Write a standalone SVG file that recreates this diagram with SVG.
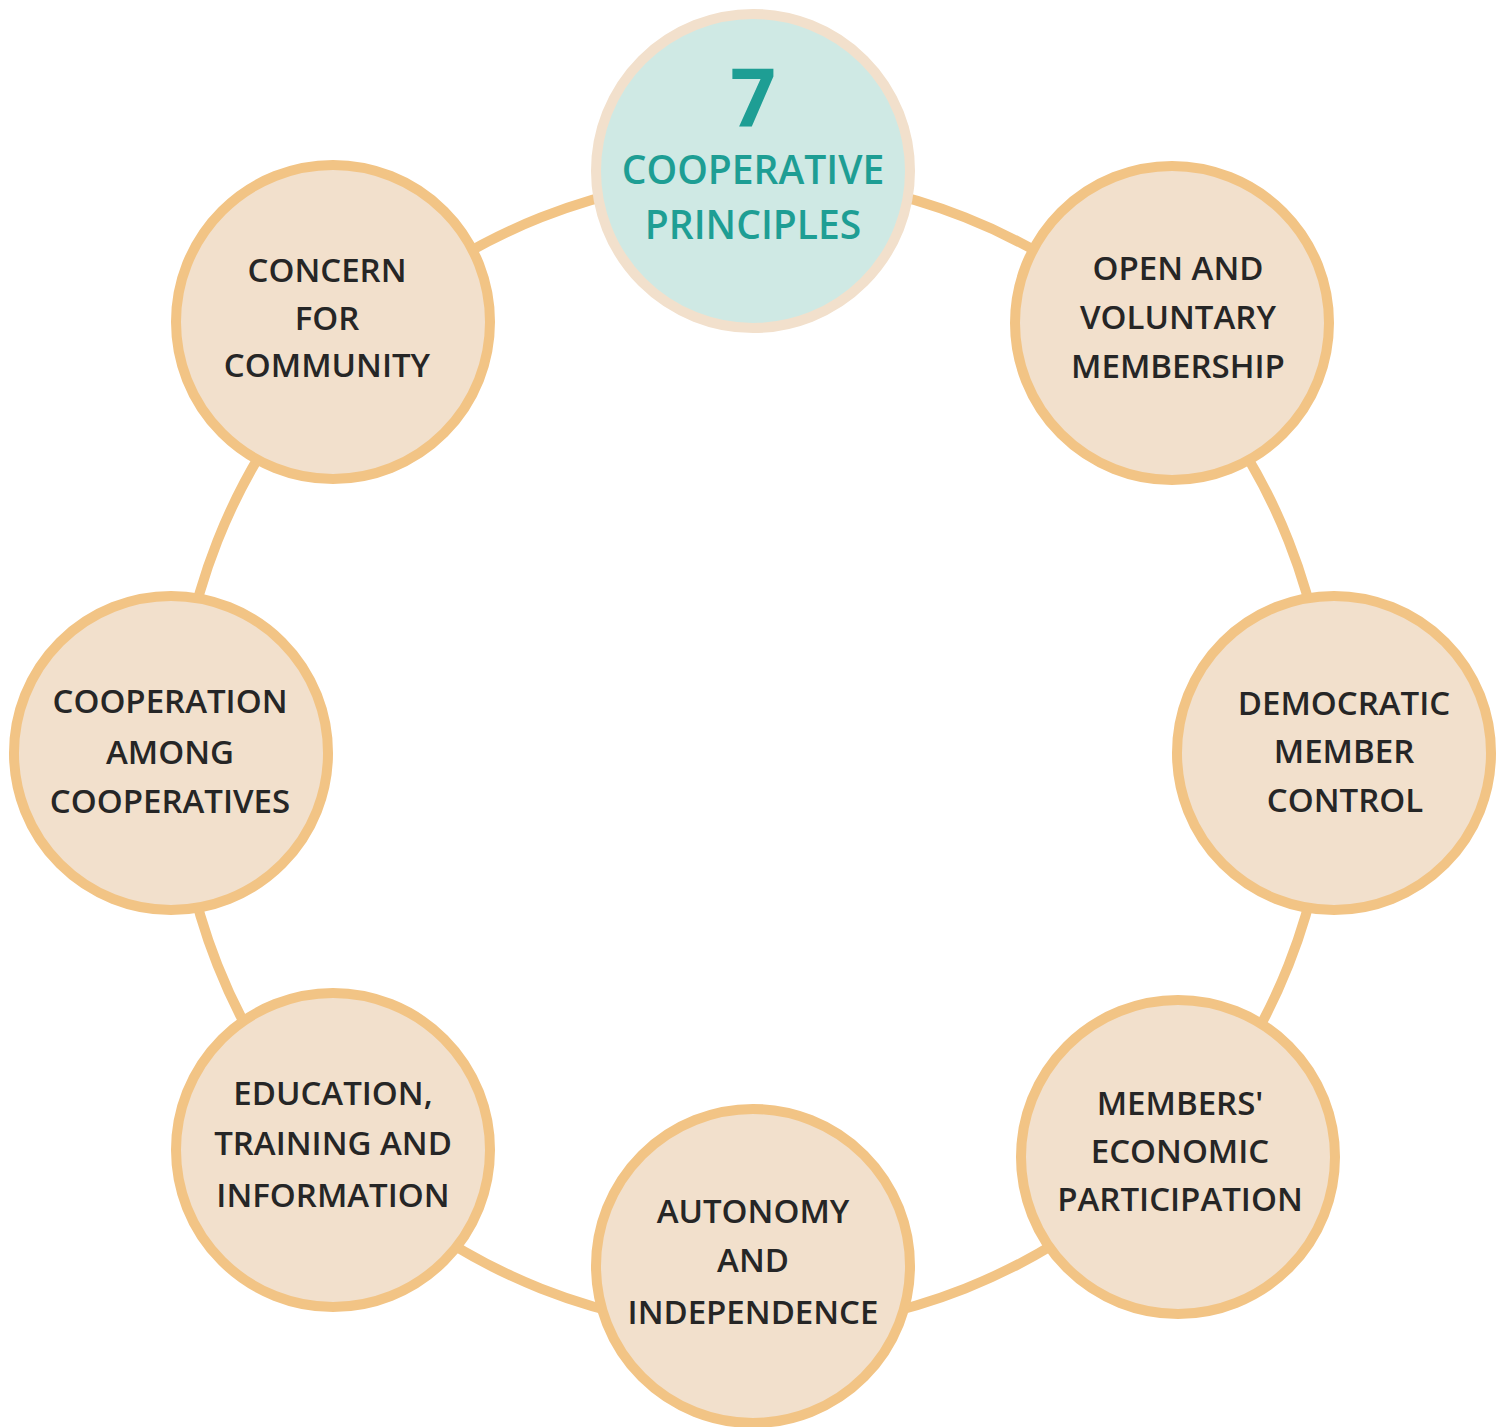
<svg xmlns="http://www.w3.org/2000/svg" width="1504" height="1427" viewBox="0 0 1504 1427">
<style>
.node{fill:#F2E0CC;stroke:#F2C485;stroke-width:10}
.hub{fill:#CFE9E4;stroke:#F2E0CC;stroke-width:10}
.lbl{font-family:"Open Sans","Liberation Sans",sans-serif;font-weight:600;font-size:33px;fill:#262626;text-anchor:middle}
.hubt{font-family:"Open Sans","Liberation Sans",sans-serif;fill:#1E9E94;text-anchor:middle}
.ring{fill:none;stroke:#F2C485;stroke-width:10}
</style>
<rect width="1504" height="1427" fill="#FFFFFF"/>
<g id="connectors">
<circle class="ring" cx="753" cy="753" r="576"/>
</g>
<g id="node-hub">
<circle class="hub" cx="753" cy="171" r="157"/>
<text class="hubt" x="753" y="126" font-size="80" font-weight="700">7</text>
<text class="hubt" x="753" y="184" font-size="39" font-weight="600">COOPERATIVE</text>
<text class="hubt" x="753" y="239" font-size="39" font-weight="600">PRINCIPLES</text>
</g>
<g id="node-open">
<circle class="node" cx="1172" cy="323" r="157"/>
<text class="lbl" x="1178" y="280">OPEN AND</text>
<text class="lbl" x="1178" y="329">VOLUNTARY</text>
<text class="lbl" x="1178" y="378">MEMBERSHIP</text>
</g>
<g id="node-democratic">
<circle class="node" cx="1334" cy="753" r="157"/>
<text class="lbl" x="1344" y="715">DEMOCRATIC</text>
<text class="lbl" x="1344" y="763">MEMBER</text>
<text class="lbl" x="1345" y="812">CONTROL</text>
</g>
<g id="node-economic">
<circle class="node" cx="1178" cy="1157" r="157"/>
<text class="lbl" x="1180" y="1115">MEMBERS'</text>
<text class="lbl" x="1180" y="1163">ECONOMIC</text>
<text class="lbl" x="1180" y="1211">PARTICIPATION</text>
</g>
<g id="node-autonomy">
<circle class="node" cx="753" cy="1266" r="157"/>
<text class="lbl" x="753" y="1223">AUTONOMY</text>
<text class="lbl" x="753" y="1272">AND</text>
<text class="lbl" x="753" y="1324">INDEPENDENCE</text>
</g>
<g id="node-education">
<circle class="node" cx="333" cy="1150" r="157"/>
<text class="lbl" x="333" y="1105">EDUCATION,</text>
<text class="lbl" x="333" y="1155">TRAINING AND</text>
<text class="lbl" x="333" y="1207">INFORMATION</text>
</g>
<g id="node-cooperation">
<circle class="node" cx="171" cy="753" r="157"/>
<text class="lbl" x="170" y="713">COOPERATION</text>
<text class="lbl" x="170" y="764">AMONG</text>
<text class="lbl" x="170" y="813">COOPERATIVES</text>
</g>
<g id="node-community">
<circle class="node" cx="333" cy="322" r="157"/>
<text class="lbl" x="327" y="282">CONCERN</text>
<text class="lbl" x="327" y="330">FOR</text>
<text class="lbl" x="327" y="377">COMMUNITY</text>
</g>
</svg>
